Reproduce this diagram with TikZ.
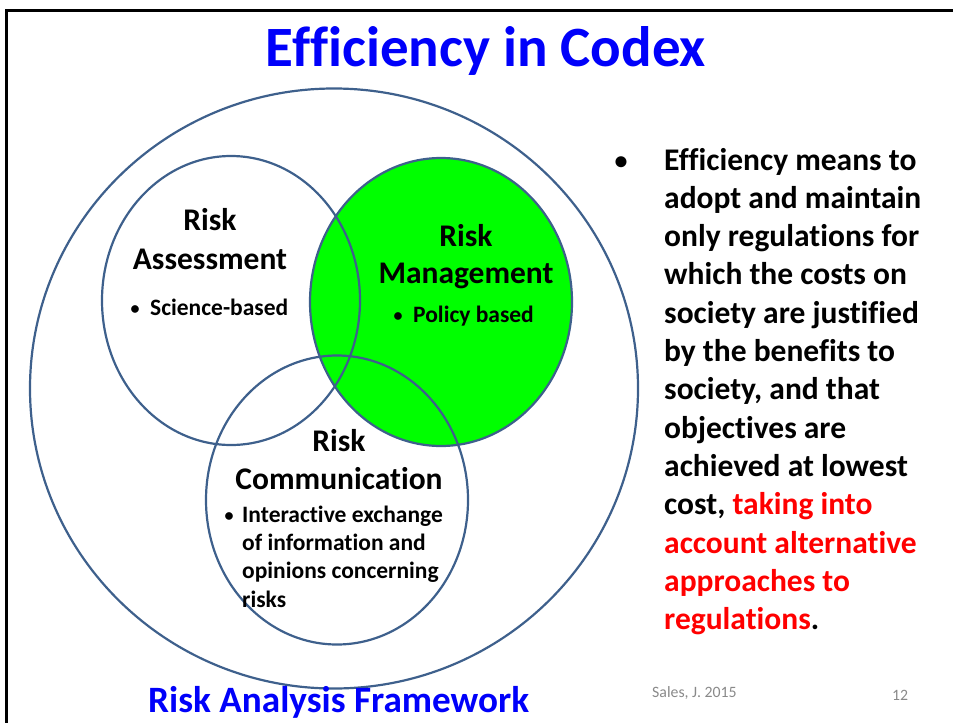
\documentclass[tikz,border=0pt]{standalone}
\usepackage{fontspec}
\setmainfont{Carlito}[Ligatures=NoCommon]
\usetikzlibrary{shapes.geometric}
\definecolor{ringblue}{RGB}{62,96,140}
\definecolor{vivgreen}{RGB}{0,255,0}
\definecolor{ttlblue}{RGB}{0,0,250}
\definecolor{txtred}{RGB}{255,0,0}
\definecolor{footgray}{RGB}{137,137,137}
\tikzset{
  ring/.style={ellipse, draw=ringblue, line width=2.2pt, inner sep=0pt, outer sep=0pt},
  ttl/.style={font=\fontsize{57}{62}\selectfont\bfseries, text=ttlblue, anchor=base, inner sep=0pt},
  head/.style={font=\fontsize{31.5}{38}\selectfont\bfseries, anchor=base, inner sep=0pt},
  sub/.style={font=\fontsize{23.5}{28}\selectfont\bfseries, anchor=base west, inner sep=0pt},
  subdot/.style={font=\fontsize{18}{22}\selectfont\bfseries, anchor=base, inner sep=0pt},
  body/.style={font=\fontsize{31.5}{38}\selectfont\bfseries, anchor=base west, inner sep=0pt},
  bigdot/.style={font=\fontsize{26}{30}\selectfont\bfseries, anchor=base, inner sep=0pt},
  foot/.style={font=\fontsize{15.8}{19}\selectfont, text=footgray, anchor=base west, inner sep=0pt},
  frame/.style={line width=3pt, draw=black}
}
\begin{document}
\begin{tikzpicture}[x=1pt,y=-1pt]
\useasboundingbox (0,0) rectangle (953,723);
% slide frame
\coordinate (fTR) at (953,10.5);
\coordinate (fTL) at (6.5,10.5);
\coordinate (fBL) at (6.5,723);
\draw[frame] (fTR) -- (fTL) -- (fBL);
% title
\node[ttl] (title) at (486,66) {Efficiency in Codex};
% circles
\node[ring, minimum width=608pt, minimum height=600pt] (outer) at (334,388.5) {};
\node[ring, fill=vivgreen, minimum width=262pt, minimum height=288pt] (mgmt) at (441,302) {};
\node[ring, minimum width=258pt, minimum height=289pt] (assess) at (231,300.5) {};
\node[ring, minimum width=262pt, minimum height=289pt] (comm) at (337,500) {};
% assessment text
\node[head] (aRisk) at (210,230) {Risk};
\node[head] (aName) at (210,269) {Assessment};
\node[subdot] (aDot) at (135,314) {•};
\node[sub] (aSub) at (150,315) {Science-based};
% management text
\node[head] (mRisk) at (466,246) {Risk};
\node[head] (mName) at (466,283) {Management};
\node[subdot] (mDot) at (398,321) {•};
\node[sub] (mSub) at (413,322) {Policy based};
% communication text
\node[head] (cRisk) at (339,451) {Risk};
\node[head] (cName) at (339,489) {Communication};
\node[subdot] (cDot) at (229,521) {•};
\node[sub] (c1) at (242,522) {Interactive exchange};
\node[sub] (c2) at (242,550.3) {of information and};
\node[sub] (c3) at (242,578.6) {opinions concerning};
\node[sub] (c4) at (242,607) {risks};
% framework label
\node[font=\fontsize{37.2}{42}\selectfont\bfseries, text=ttlblue, anchor=base west, inner sep=0pt] (frame) at (148,712) {Risk Analysis Framework};
% right text
\node[bigdot] (rDot) at (621,169) {•};
\node[body] (r1) at (664,170) {Efficiency means to};
\node[body] (r2) at (664,208.3) {adopt and maintain};
\node[body] (r3) at (664,246.6) {only regulations for};
\node[body] (r4) at (664,284.9) {which the costs on};
\node[body] (r5) at (664,323.2) {society are justified};
\node[body] (r6) at (664,361.5) {by the benefits to};
\node[body] (r7) at (664,399.8) {society, and that};
\node[body] (r8) at (664,438.1) {objectives are};
\node[body] (r9) at (664,476.4) {achieved at lowest};
\node[body] (r10) at (664,514.7) {cost, \textcolor{txtred}{taking into}};
\node[body, text=txtred] (r11) at (664,553) {account alternative};
\node[body, text=txtred] (r12) at (664,591.3) {approaches to};
\node[body] (r13) at (664,629.6) {\textcolor{txtred}{regulations}.};
% footer
\node[foot] (src) at (652,697) {Sales, J. 2015};
\node[foot] (pg) at (892,700) {12};
\end{tikzpicture}
\end{document}
